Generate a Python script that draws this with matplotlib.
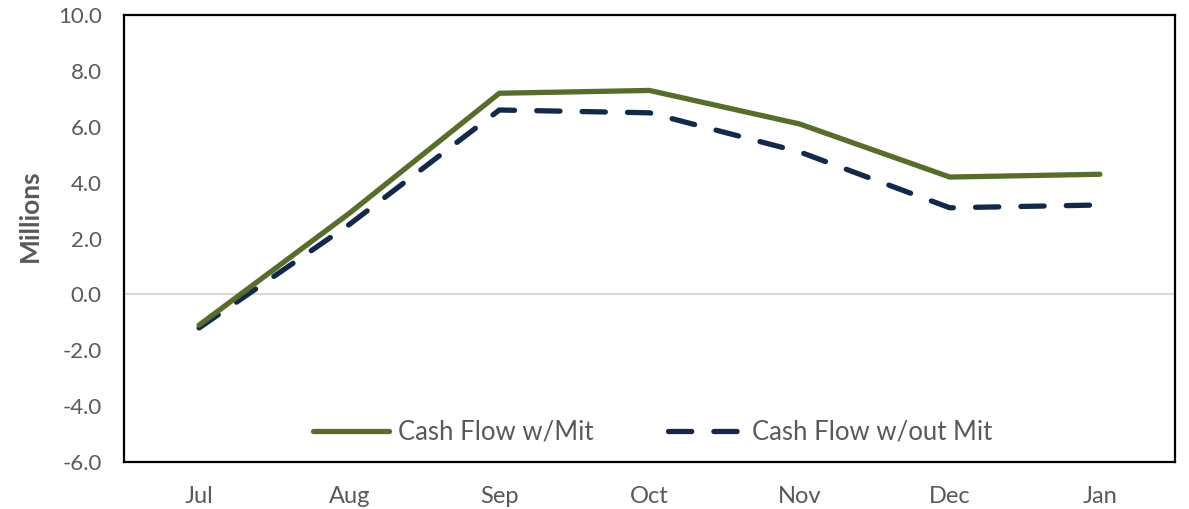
import matplotlib
matplotlib.use("Agg")
from matplotlib import pyplot as plt

months = ["Jul", "Aug", "Sep", "Oct", "Nov", "Dec", "Jan"]
with_mit = [-1.1, 2.9, 7.2, 7.3, 6.1, 4.2, 4.3]
without_mit = [-1.2, 2.5, 6.6, 6.5, 5.1, 3.1, 3.2]
yticks = [-6, -4, -2, 0, 2, 4, 6, 8, 10]

plt.rcParams['font.family'] = ['Lato', 'DejaVu Sans']
grey = "#595959"

fig = plt.figure(figsize=(11.89, 5.09), dpi=100)
ax = fig.add_axes([0.1043, 0.0923, 0.8839, 0.8782])

x = list(range(len(months)))
ax.axhline(0, color="#d9d9d9", lw=1.5, zorder=1)
ax.plot(x, with_mit, color="#586d2b", lw=3.8, solid_capstyle="round",
        label="Cash Flow w/Mit", zorder=3)
ax.plot(x, without_mit, color="#13294b", lw=3.8, dashes=(4.4, 4.2),
        dash_capstyle="round", label="Cash Flow w/out Mit", zorder=2)

ax.set_xlim(-0.5, 6.5)
ax.set_ylim(-6, 10)
ax.set_xticks(x)
ax.set_xticklabels(months)
ax.set_yticks(yticks)
ax.set_yticklabels([f"{v:.1f}" for v in yticks])
ax.tick_params(length=0, colors=grey)
ax.tick_params(axis="y", labelsize=16, pad=16)
ax.tick_params(axis="x", labelsize=17, pad=17)
for s in ax.spines.values():
    s.set_linewidth(1.6)
    s.set_color("black")

ax.set_ylabel("Millions", fontsize=19, fontweight="bold", color=grey)
ax.yaxis.set_label_coords(-0.078, 0.55)

leg = ax.legend(loc="center", ncol=2, frameon=False, fontsize=18.5,
                handlelength=2.95, columnspacing=2.9, handletextpad=0.35,
                bbox_to_anchor=(0.503, 0.067))
for t in leg.get_texts():
    t.set_color(grey)

fig.savefig("out.png", dpi=100)
